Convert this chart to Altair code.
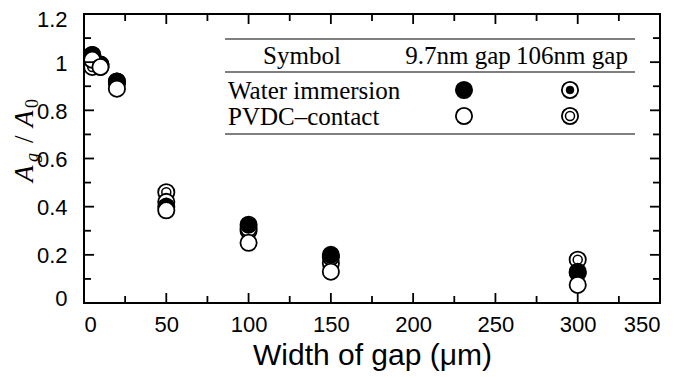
import altair as alt
import pandas as pd

# ---- data ----
gap = [5, 10, 20, 50, 100, 150, 300]
water_97 = [1.03, 0.99, 0.92, 0.40, 0.325, 0.20, 0.125]
pvdc_97 = [1.01, 0.98, 0.89, 0.385, 0.25, 0.13, 0.075]
water_106 = [1.03, 0.99, 0.91, 0.42, 0.31, 0.19, 0.13]
pvdc_106 = [0.98, 0.98, 0.92, 0.46, 0.30, 0.165, 0.18]

x_major = [0, 50, 100, 150, 200, 250, 300, 350]
x_minor = [25, 75, 125, 175, 225, 275, 325]
y_major = [0, 0.2, 0.4, 0.6, 0.8, 1.0, 1.2]
y_minor = [0.1, 0.3, 0.5, 0.7, 0.9, 1.1]

header = ["Symbol", "9.7nm gap", "106nm gap"]
rows = ["Water immersion", "PVDC\u2013contact"]
x_title = "Width of gap (\u03bcm)"

W, H = 576, 289
MAJ, MIN = 10, 7
SERIF = "Liberation Serif"
SANS = "Liberation Sans"

xs = alt.Scale(domain=[0, 350], nice=False)
ys = alt.Scale(domain=[0, 1.2], nice=False)

xaxis = alt.Axis(values=x_major, title=x_title, labelPadding=11, titlePadding=5)
yaxis = alt.Axis(values=y_major, title=None, labelPadding=17, labelOffset=1,
                 labelFlush=True, labelFlushOffset=6,
                 labelExpr="format(datum.value, '.1~f')")


def X(field="gap"):
    return alt.X(f"{field}:Q", scale=xs, axis=xaxis, title=x_title)


def Y(field="ratio"):
    return alt.Y(f"{field}:Q", scale=ys, axis=yaxis, title=None)


def series(vals):
    return pd.DataFrame({"gap": gap, "ratio": vals})


def pts(vals, **kw):
    return alt.Chart(series(vals)).mark_point(shape="circle", **kw).encode(x=X(), y=Y())


OUT = dict(size=264, fill="white", filled=False, stroke="black", strokeWidth=1.8, opacity=1, fillOpacity=1)
FILL = dict(size=264, fill="black", filled=True, stroke="black", strokeWidth=1.8, opacity=1)
DOT = dict(size=64, fill="black", filled=True, stroke="black", strokeWidth=0.5, opacity=1)
RING = dict(size=81, fill="white", filled=False, stroke="black", strokeWidth=1.5, opacity=1, fillOpacity=1)

# tick marks (inward, all four sides)
xt_major = pd.DataFrame({"gap": x_major})
xt_minor = pd.DataFrame({"gap": x_minor})
yt_major = pd.DataFrame({"ratio": y_major})
yt_minor = pd.DataFrame({"ratio": y_minor})

ticks = []
for df, L in [(xt_major, MAJ), (xt_minor, MIN)]:
    ticks.append(alt.Chart(df).mark_rule(color="black", strokeWidth=1.8).encode(
        x=X(), y=alt.value(H), y2=alt.value(H - L)))
    ticks.append(alt.Chart(df).mark_rule(color="black", strokeWidth=1.8).encode(
        x=X(), y=alt.value(0), y2=alt.value(L)))
for df, L in [(yt_major, MAJ), (yt_minor, MIN)]:
    ticks.append(alt.Chart(df).mark_rule(color="black", strokeWidth=1.8).encode(
        y=Y(), x=alt.value(0), x2=alt.value(L)))
    ticks.append(alt.Chart(df).mark_rule(color="black", strokeWidth=1.8).encode(
        y=Y(), x=alt.value(W), x2=alt.value(W - L)))

data_layers = [
    pts(pvdc_106, **OUT),
    pts(pvdc_106, **RING),
    pts(water_106, **OUT),
    pts(water_106, **DOT),
    pts(water_97, **FILL),
    pts(pvdc_97, **OUT),
]

one = pd.DataFrame({"k": [0]})


def txt(s, x, y, size=25, align="left", font=SERIF, style="normal", angle=0, baseline="middle"):
    kw = dict(text=s, font=font, fontSize=size, align=align, baseline=baseline,
              color="black", fontStyle=style)
    if angle:
        kw["angle"] = angle
    return alt.Chart(one).mark_text(**kw).encode(x=alt.value(x), y=alt.value(y))


def hline(y, x1, x2):
    return alt.Chart(one).mark_rule(color="black", strokeWidth=1.2).encode(
        x=alt.value(x1), x2=alt.value(x2), y=alt.value(y))


def sym(x, y, **kw):
    return alt.Chart(one).mark_point(shape="circle", **kw).encode(x=alt.value(x), y=alt.value(y))


legend = [
    hline(25, 141, 551), hline(58, 141, 551), hline(120, 141, 551),
    txt(header[0], 218, 42, align="center"),
    txt(header[1], 374, 42, align="center"),
    txt(header[2], 488, 42, align="center"),
    txt(rows[0], 144, 77),
    txt(rows[1], 144, 103),
    sym(380, 76, **FILL),
    sym(380, 102, **OUT),
    sym(486, 76, **OUT), sym(486, 76, **DOT),
    sym(486, 102, **OUT), sym(486, 102, **RING),
]

ytitle = [
    txt("A", -51, 168, size=27, style="italic", angle=270, baseline="alphabetic"),
    txt("g", -46, 148, size=18, style="italic", angle=270, baseline="alphabetic"),
    txt("/", -51, 129, size=27, angle=270, baseline="alphabetic"),
    txt("A", -51, 113, size=27, style="italic", angle=270, baseline="alphabetic"),
    txt("0", -46, 94, size=18, angle=270, baseline="alphabetic"),
]

chart = alt.layer(*data_layers, *ticks, *legend, *ytitle).properties(
    width=W, height=H,
    autosize=alt.AutoSizeParams(type="none"),
    padding={"left": 76, "top": 6, "right": 8, "bottom": 74},
).configure_view(stroke="black", strokeWidth=2).configure_axis(
    labelFont=SANS, labelFontSize=22, labelColor="black",
    titleFont=SANS, titleFontSize=30, titleColor="black", titleFontWeight="normal",
    ticks=False, tickSize=0, domain=False, grid=False,
)

chart.save("out.html", embed_options={"renderer": "svg", "actions": False})
